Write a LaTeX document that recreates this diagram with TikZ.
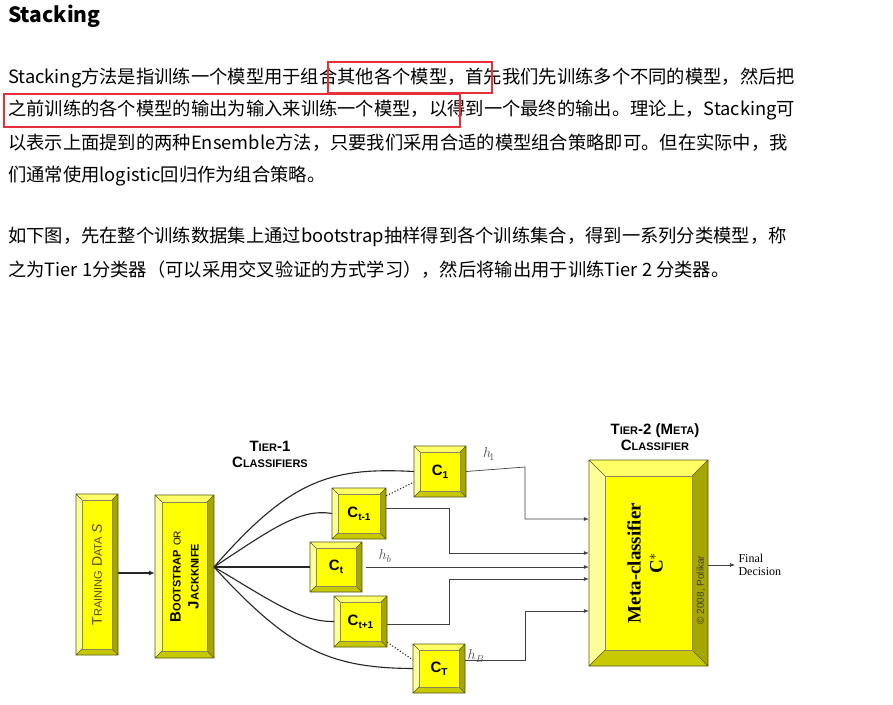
\documentclass[tikz,border=0pt]{standalone}
\usepackage{fontspec}
\setmainfont{Liberation Serif}
\setsansfont{Liberation Sans}
\newfontfamily\cjk{Noto Sans CJK SC}
\usetikzlibrary{positioning,arrows.meta}
\definecolor{face}{HTML}{FFFF00}
\definecolor{bevlight}{HTML}{FFFF9A}
\definecolor{bevtop}{HTML}{FFFF66}
\definecolor{bevdark}{HTML}{A6A600}
\definecolor{bevbot}{HTML}{C8C800}
\definecolor{rim}{HTML}{55551A}
\definecolor{hilite}{HTML}{E8303A}
% bevelled box: name, x1, y1, x2, y2, depth, label
\newcommand\bevelbox[7]{%
  \fill[bevtop] (#2,#3) -- (#4,#3) -- (#4-#6,#3+#6) -- (#2+#6,#3+#6) -- cycle;
  \fill[bevlight] (#2,#3) -- (#2+#6,#3+#6) -- (#2+#6,#5-#6) -- (#2,#5) -- cycle;
  \fill[bevdark] (#4,#3) -- (#4,#5) -- (#4-#6,#5-#6) -- (#4-#6,#3+#6) -- cycle;
  \fill[bevbot] (#2,#5) -- (#4,#5) -- (#4-#6,#5-#6) -- (#2+#6,#5-#6) -- cycle;
  \fill[face] (#2+#6,#3+#6) rectangle (#4-#6,#5-#6);
  \draw[rim,line width=0.6pt] (#2,#3) rectangle (#4,#5)
    (#2,#3) -- (#2+#6,#3+#6) (#4,#3) -- (#4-#6,#3+#6)
    (#2,#5) -- (#2+#6,#5-#6) (#4,#5) -- (#4-#6,#5-#6);
  \draw[rim!70,line width=0.4pt] (#2+#6,#3+#6) rectangle (#4-#6,#5-#6);
  \node[inner sep=0pt,minimum width=#4-#2,minimum height=#5-#3] (#1) at ({(#2+#4)/2},{(#3+#5)/2}) {#7};}
\newcommand\smcap[1]{{\fontsize{11}{11}\selectfont #1}}
\newcommand\clab[1]{{\sffamily\bfseries\fontsize{15}{15}\selectfont C\raisebox{-3pt}{\fontsize{10}{10}\selectfont #1}}}
\begin{document}
\begin{tikzpicture}[x=1pt,y=-1pt,
  para/.style={anchor=west,inner sep=0pt,font=\cjk\fontsize{18.3}{20}\selectfont},
  wire/.style={line width=0.7pt,black!75},
  link/.style={line width=1.1pt,black!85},
  feed/.style={wire,-{Latex[length=5pt,width=4pt]}},
  hlab/.style={font=\itshape\fontsize{14}{14}\selectfont,text=black!70},
  tierlab/.style={font=\sffamily\bfseries\fontsize{15}{16}\selectfont,align=center}]
\useasboundingbox[fill=white] (0,0) rectangle (893,704);
% text of the page
\node[anchor=west,inner sep=0pt,font=\cjk\bfseries\fontsize{21}{21}\selectfont] (title) at (8,16) {Stacking};
\node[para] (l1) at (8,78) {Stacking方法是指训练一个模型用于组合其他各个模型，首先我们先训练多个不同的模型，然后把};
\node[para] (l2) at (8,110) {之前训练的各个模型的输出为输入来训练一个模型，以得到一个最终的输出。理论上，Stacking可};
\node[para] (l3) at (8,143) {以表示上面提到的两种Ensemble方法，只要我们采用合适的模型组合策略即可。但在实际中，我};
\node[para] (l4) at (8,176) {们通常使用logistic回归作为组合策略。};
\node[para] (l5) at (8,237) {如下图，先在整个训练数据集上通过bootstrap抽样得到各个训练集合，得到一系列分类模型，称};
\node[para] (l6) at (8,270) {之为Tier 1分类器（可以采用交叉验证的方式学习），然后将输出用于训练Tier 2 分类器。};
\draw[hilite,line width=1.3pt] (328,62) rectangle (492,93);
\draw[hilite,line width=1.3pt] (4,94) rectangle (460,127);
% boxes
\bevelbox{data}{76}{494}{118}{655}{6}{}
\node[rotate=90,font=\sffamily\fontsize{14}{14}\selectfont,text=black!55!olive] at (data) {T\smcap{RAINING} D\smcap{ATA} \textit{S}};
\bevelbox{boot}{155}{495}{214}{658}{7}{}
\node[rotate=90,align=center,font=\sffamily\bfseries\fontsize{15}{18}\selectfont] at (boot) {B\smcap{OOTSTRAP} {\mdseries\fontsize{10}{10}\selectfont OR}\\J\smcap{ACKKNIFE}};
\bevelbox{c1}{414}{446}{466}{497}{6}{\clab{1}}
\bevelbox{ctm}{332}{488}{386}{539}{6}{\clab{t-1}}
\bevelbox{ct}{310}{542}{362}{592}{6}{\clab{t}}
\bevelbox{ctp}{334}{596}{387}{647}{6}{\clab{t+1}}
\bevelbox{cT}{413}{644}{465}{693}{6}{\clab{T}}
\bevelbox{meta}{589}{460}{708}{666}{16}{}
\node[rotate=90,align=center,font=\bfseries\fontsize{19}{22}\selectfont] at (645,563) {Meta-classifier\\C$^{*}$};
\node[rotate=90,font=\sffamily\fontsize{10}{10}\selectfont,text=black!75] at (701,590) {\textcopyright{} 2008, Polikar};
% labels
\node[tierlab] (tier1) at (270,454) {T\smcap{IER}-1\\C\smcap{LASSIFIERS}};
\node[tierlab] (tier2) at (655,437) {T\smcap{IER}-2 (M\smcap{ETA})\\C\smcap{LASSIFIER}};
\node[align=left,font=\fontsize{12}{13}\selectfont,anchor=west] (final) at (735,565) {Final\\Decision};
% connectors
\draw[link,-{Latex[length=6pt,width=5pt]}] (data.east |- 0,573) -- (boot.west |- 0,573);
\coordinate (fan) at (214,567);
\draw[link] (fan) .. controls (290,480) and (330,467) .. (c1.west);
\draw[link] (fan) .. controls (270,530) and (300,508) .. (ctm.west);
\draw[link] (fan) -- (ct.west);
\draw[link] (fan) .. controls (270,600) and (300,622) .. (ctp.west);
\draw[link] (fan) .. controls (290,650) and (330,668) .. (cT.west);
\draw[link,dotted] (ctm.north east) ++(0,8) -- (414,482);
\draw[link,dotted] (ctp.south east) ++(0,-5) -- (413,660);
\draw[feed] (c1.east) -- (525,467) |- (meta.west |- 0,519);
\draw[feed] (ctm.east |- 0,508) -- (449,508) |- (meta.west |- 0,553);
\draw[feed] (ct.east) ++(4,0) -- (meta.west |- 0,567);
\draw[feed] (ctp.east |- 0,624) -- (449,624) |- (meta.west |- 0,579);
\draw[feed] (cT.east |- 0,660) -- (525,660) |- (meta.west |- 0,611);
\draw[wire,-{Latex[length=5pt,width=4pt]}] (meta.east |- final) -- (final.west);
\node[hlab] at (489,454) {$h_{\!1}$};
\node[hlab] at (385,556) {$h_b$};
\node[hlab] at (476,656) {$h_B$};
\end{tikzpicture}
\end{document}
